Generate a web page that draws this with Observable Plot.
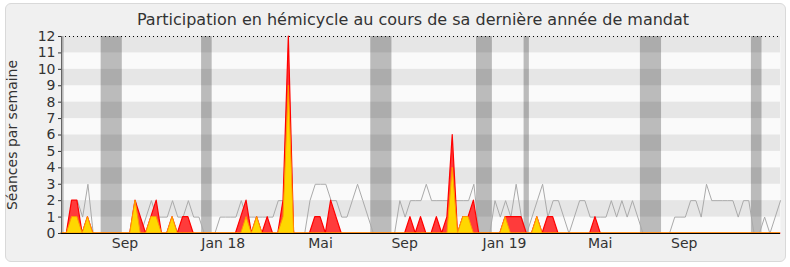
<!DOCTYPE html>
<html><head><meta charset="utf-8">
<script src="https://cdn.jsdelivr.net/npm/d3@7"></script>
<script src="https://cdn.jsdelivr.net/npm/@observablehq/plot@0.6"></script>
<style>
html,body{margin:0;padding:0;background:#fff;}
#wrap{position:relative;width:790px;height:267px;overflow:hidden;font-family:"DejaVu Sans",sans-serif;}
#box{position:absolute;left:5px;top:3px;width:779px;height:257px;background:#f0f0f0;border:1px solid #d9d9d9;border-radius:6px;}
#chart{position:absolute;left:0;top:0;}
#title{position:absolute;left:0;width:826px;top:10px;text-align:center;font-size:16px;color:#333;white-space:nowrap;}
</style></head>
<body>
<div id="wrap"><div id="box"></div><div id="chart"></div><div id="title">Participation en hémicycle au cours de sa dernière année de mandat</div></div>
<script>
// Weekly values, week 0 = first week of the period
const gris = [
 0,0,2,2,1,3,0,0,0,0,
 0,0,0,0,2,0,1,2,1,1,
 1,2,1,1,2,1,1,0,0,0,
 1,1,1,1,2,1,1,1,1,1,
 1,2,2,2,0,0,0,2,3,3,
 3,2,2,1,1,2,3,2,1,0,
 0,0,0,0,2,1,2,2,2,3,
 2,2,2,2,2,2,2,2,3,0,
 0,0,2,1,2,1,3,1,0,1,
 2,3,1,2,2,1,0,1,2,2,
 1,1,1,1,2,1,2,1,2,1,
 0,0,0,0,0,0,1,1,1,2,
 2,1,3,2,2,2,2,2,1,2,
 2,0,0,1,0,1,2
];
const presences = [
 0,0,2,2,0,1,0,0,0,0,
 0,0,0,0,2,1,0,1,2,0,
 0,1,0,1,1,0,0,0,0,0,
 0,0,0,0,1,2,0,1,0,1,
 0,0,2,12,0,0,0,0,1,1,
 0,2,1,0,0,0,0,0,0,0,
 0,0,0,0,0,0,1,0,1,0,
 0,1,0,1,6,0,1,1,2,0,
 0,0,0,0,1,1,1,1,0,0,
 1,0,1,1,0,0,0,0,0,0,
 0,1,0,0,0,0,0,0,0,0,
 0,0,0,0,0,0,0,0,0,0,
 0,0,0,0,0,0,0,0,0,0,
 0,0,0,0,0,0,0
];
const interventions = [
 0,0,1,1,0,1,0,0,0,0,
 0,0,0,0,2,0,0,1,1,0,
 0,1,0,0,0,0,0,0,0,0,
 0,0,0,0,0,1,0,1,0,0,
 0,0,1,9,0,0,0,0,0,0,
 0,0,0,0,0,0,0,0,0,0,
 0,0,0,0,0,0,0,0,0,0,
 0,0,0,0,4,0,1,1,0,0,
 0,0,0,0,1,0,0,0,0,0,
 1,0,0,0,0,0,0,0,0,0,
 0,0,0,0,0,0,0,0,0,0,
 0,0,0,0,0,0,0,0,0,0,
 0,0,0,0,0,0,0,0,0,0,
 0,0,0,0,0,0,0
];
// Vacation periods (first week, last week)
const vacances = [[0,0],[8,11],[27,28],[59,62],[79,81],[88,88],[110,113],[131,132]];
// Month tick labels and their week positions
const tickWeeks = [12, 30.6, 49, 64.9, 83.8, 101.9, 117.8];
const tickLabels = ["Sep","Jan 18","Mai","Sep","Jan 19","Mai","Sep"];
const yTicks = [0,1,2,3,4,5,6,7,8,9,10,11,12];

const data = gris.map((g, k) => ({k, gris: g, presences: presences[k], interventions: interventions[k]}));
const lastWeek = gris.length - 1;
const stripes = yTicks.filter(v => v % 2 === 1);

const chart = Plot.plot({
  width: 790, height: 267,
  marginLeft: 61, marginRight: 10, marginTop: 36, marginBottom: 34,
  style: {background: "transparent", fontFamily: "DejaVu Sans, sans-serif", fontSize: "14px", color: "#333", overflow: "visible"},
  x: {domain: [0, lastWeek]},
  y: {domain: [0, 12]},
  marks: [
    Plot.frame({fill: "#fafafa", stroke: "none"}),
    Plot.rect(stripes, {x1: 0, x2: lastWeek, y1: d => d, y2: d => d + 1, fill: "#e6e6e6"}),
    Plot.rect(vacances, {x1: d => d[0] - 0.5, x2: d => d[1] + 0.5, y1: 0, y2: 12, fill: "#000", fillOpacity: 0.25, clip: true}),
    Plot.line(data, {x: "k", y: "gris", stroke: "#aaaaaa", strokeWidth: 1}),
    Plot.areaY(data, {x: "k", y: "presences", fill: "#ff3b3b", stroke: "#ff0000", strokeWidth: 1.2}),
    Plot.areaY(data, {x: "k", y: "interventions", fill: "#ffd700", stroke: "#ff9900", strokeWidth: 1}),
    Plot.ruleY([12], {stroke: "#000", strokeDasharray: "1,3"}),
    Plot.ruleY([0], {stroke: "#000"}),
    Plot.ruleX([0], {stroke: "#666"}),
    Plot.axisY({ticks: yTicks, tickSize: 3, tickPadding: 3, tickFormat: d => String(d), fontSize: 14,
      label: null}),
    Plot.axisY({ticks: [], tickSize: 0, label: "Séances par semaine", labelAnchor: "center", labelOffset: 54, labelArrow: "none", fontSize: 14}),
    Plot.axisX({ticks: tickWeeks, tickSize: 0, tickPadding: 5, fontSize: 14,
      tickFormat: d => tickLabels[tickWeeks.indexOf(d)], label: null})
  ]
});
document.getElementById("chart").appendChild(chart);
</script>
</body></html>
